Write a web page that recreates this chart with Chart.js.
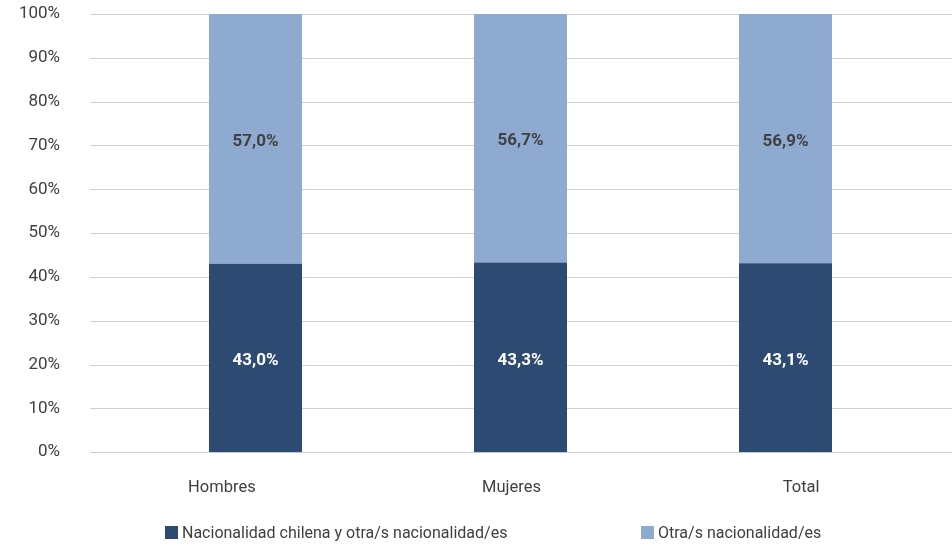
<!DOCTYPE html>
<html>
<head>
<meta charset="utf-8">
<script src="https://cdn.jsdelivr.net/npm/chart.js@4/dist/chart.umd.min.js"></script>
<style>
  html, body { margin: 0; padding: 0; background: #fff; }
  #wrap { position: relative; width: 952px; height: 546px; }
  canvas { display: block; }
  #legend { position: absolute; left: 0; top: 0; width: 952px; height: 546px; pointer-events: none; }
  .item { position: absolute; top: 522px; height: 20px; display: flex; align-items: center; font-family: Roboto, "Noto Sans", sans-serif; font-size: 16px; color: #404040; white-space: nowrap; }
  .box { width: 13px; height: 13px; margin-right: 4px; }
</style>
</head>
<body>
<div id="wrap">
  <canvas id="c" width="952" height="546"></canvas>
  <div id="legend"></div>
</div>
<script>
const categories = ['Hombres', 'Mujeres', 'Total'];
const chilenaOtra = [43.0, 43.3, 43.1];
const otraNac = [57.0, 56.7, 56.9];
const yTicks = [0, 10, 20, 30, 40, 50, 60, 70, 80, 90, 100];
const seriesNames = ['Nacionalidad chilena y otra/s nacionalidad/es', 'Otra/s nacionalidad/es'];
const colors = ['#2C4A72', '#8FAAD1'];
const labelColors = ['#ffffff', '#404040'];

const fmt = v => v.toFixed(1).replace('.', ',') + '%';
const toPoints = arr => arr.map((v, i) => ({ x: i, y: v }));

const gridPlugin = {
  id: 'extGrid',
  beforeDatasetsDraw(chart) {
    const ctx = chart.ctx, y = chart.scales.y;
    ctx.save();
    ctx.strokeStyle = '#d0d0d0';
    ctx.lineWidth = 1;
    y.ticks.forEach(t => {
      const py = Math.round(y.getPixelForValue(t.value)) + 0.5;
      ctx.beginPath();
      ctx.moveTo(90, py);
      ctx.lineTo(952, py);
      ctx.stroke();
    });
    ctx.restore();
  }
};

const labelPlugin = {
  id: 'barLabels',
  afterDatasetsDraw(chart) {
    const ctx = chart.ctx;
    ctx.save();
    ctx.font = 'bold 17px Roboto, "Noto Sans", sans-serif';
    ctx.textAlign = 'center';
    ctx.textBaseline = 'middle';
    chart.data.datasets.forEach((ds, di) => {
      const meta = chart.getDatasetMeta(di);
      meta.data.forEach((bar, i) => {
        const cy = (bar.y + bar.base) / 2 + 3;
        ctx.fillStyle = labelColors[di];
        ctx.fillText(fmt(ds.data[i].y), bar.x, cy);
      });
    });
    ctx.restore();
  }
};

const chart = new Chart(document.getElementById('c'), {
  type: 'bar',
  data: {
    labels: categories,
    datasets: [
      { label: seriesNames[0], data: toPoints(chilenaOtra), backgroundColor: colors[0] },
      { label: seriesNames[1], data: toPoints(otraNac), backgroundColor: colors[1] }
    ]
  },
  options: {
    responsive: false,
    animation: false,
    devicePixelRatio: 1,
    layout: { padding: { top: 14, right: 6, left: 0, bottom: 22 } },
    datasets: { bar: { categoryPercentage: 1, barPercentage: 0.351 } },
    plugins: { legend: { display: false }, tooltip: { enabled: false } },
    scales: {
      x: {
        type: 'linear',
        stacked: true,
        display: false,
        offset: false,
        min: -0.6736,
        max: 2.6057,
        afterBuildTicks(s) { s.ticks = categories.map((c, i) => ({ value: i })); }
      },
      xLabels: {
        type: 'category',
        position: 'bottom',
        offset: true,
        grid: { display: false, drawTicks: false },
        border: { display: false },
        ticks: { color: '#404040', padding: 26, maxRotation: 0, font: { family: 'Roboto, "Noto Sans", sans-serif', size: 16.5 } }
      },
      y: {
        stacked: true,
        min: 0, max: 100,
        afterFit(s) { s.width = 77; s.paddingTop = 0; s.paddingBottom = 0; },
        afterBuildTicks(s) { s.ticks = yTicks.map(v => ({ value: v })); },
        grid: { display: false, drawTicks: false },
        border: { display: false },
        ticks: {
          color: '#404040', padding: 17,
          font: { family: 'Roboto, "Noto Sans", sans-serif', size: 17 },
          callback: v => v + '%'
        }
      }
    }
  },
  plugins: [gridPlugin, labelPlugin]
});

const leg = document.getElementById('legend');
const lefts = [165, 641];
seriesNames.forEach((name, i) => {
  const it = document.createElement('div');
  it.className = 'item';
  it.style.left = lefts[i] + 'px';
  const b = document.createElement('span');
  b.className = 'box';
  b.style.background = colors[i];
  const t = document.createElement('span');
  t.textContent = name;
  it.appendChild(b); it.appendChild(t);
  leg.appendChild(it);
});
</script>
</body>
</html>
